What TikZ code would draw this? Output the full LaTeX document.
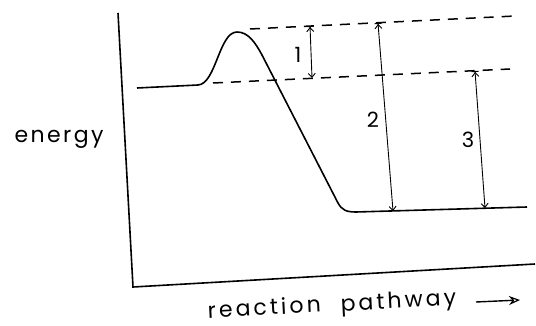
\documentclass[tikz,border=0pt]{standalone}
\usepackage{fontspec}
\setsansfont{Poppins}
\usetikzlibrary{arrows.meta}

\begin{document}
\begin{tikzpicture}[
  x=1pt, y=-1pt,
  lbl/.style={font=\sffamily\fontsize{22}{22}\selectfont, inner sep=0pt},
  num/.style={font=\sffamily\fontsize{21}{21}\selectfont, inner sep=0pt},
  axis/.style={line width=1.6pt},
  level/.style={line width=1.5pt, dash pattern=on 10pt off 8pt},
  dimline/.style={{Bar[width=7pt,line width=1pt]Straight Barb[length=4pt,width=7pt]}-{Straight Barb[length=4pt,width=7pt]}, line width=0.9pt},
  pathway/.style={line width=1.6pt, line join=round}
]
\useasboundingbox (0,0) rectangle (536,326);

% axes
\coordinate (ytop) at (118,13);
\coordinate (origin) at (133,287);
\coordinate (xend) at (535,264);
\draw[axis] (ytop) -- (origin) -- (xend);

% energy profile
\coordinate (react) at (137,88);
\coordinate (prod) at (527,207);
\draw[pathway] (react) -- (198,85)
  .. controls (216,84) and (219,32) .. (237,32)
  .. controls (248,32) and (255,42) .. (262,55)
  -- (338,203)
  .. controls (342,210) and (346,212) .. (356,212)
  -- (prod);

% levels
\coordinate (ts1) at (250,29);
\coordinate (ts2) at (515,16);
\coordinate (r1) at (213,83);
\coordinate (r2) at (510,69);
\draw[level] (ts1) -- (ts2);
\draw[level] (r1) -- (r2);

% differences
\coordinate (top1) at (310,26);
\coordinate (bot1) at (312,78);
\coordinate (top2) at (378,23);
\coordinate (bot2) at (393,211);
\coordinate (top3) at (475,71);
\coordinate (bot3) at (485,208);
\draw[dimline] (top1) -- (bot1);
\draw[dimline] (top2) -- (bot2);
\draw[dimline] (top3) -- (bot3);
\node[num] (n1) at (298,55) {1};
\node[num] (n2) at (373,120) {2};
\node[num] (n3) at (468,140) {3};

% axis labels
\node[lbl] (ylab) at (59,139) {\addfontfeatures{LetterSpace=11}energy};
\node[lbl, rotate=3] (xlab) at (332,306) {\addfontfeatures{LetterSpace=14}reaction\hspace{11pt} pathway};
\coordinate (arrs) at (476,302);
\coordinate (arre) at (520,300);
\draw[line width=1.4pt, -{Stealth[open,length=11pt,width=9pt,line width=1.2pt]}] (arrs) -- (arre);
\end{tikzpicture}
\end{document}
